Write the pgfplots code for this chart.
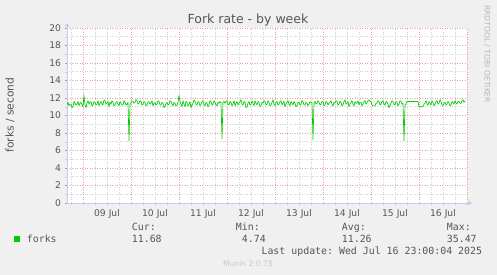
\documentclass[border=0pt]{standalone}
\usepackage{fontspec}
\setmainfont{DejaVu Sans}
\setmonofont{DejaVu Sans Mono}
\usepackage{pgfplots}
\pgfplotsset{compat=1.18}
\usetikzlibrary{arrows.meta}
\definecolor{bg}{HTML}{F0F0F0}
\definecolor{txt}{HTML}{555555}
\definecolor{majgrid}{HTML}{E6A0A0}
\definecolor{mingrid}{HTML}{CFCFCF}
\definecolor{axblue}{HTML}{C8C8F5}
\definecolor{forkgreen}{HTML}{00CC00}
\begin{document}
\begin{tikzpicture}[x=1pt,y=1pt]
\fill[bg] (0,0) rectangle (497,275);
\useasboundingbox (0,0) rectangle (497,275);
\begin{axis}[
  at={(67pt,72pt)}, anchor=south west,
  scale only axis, width=400pt, height=175pt,
  xmin=0, xmax=400, ymin=0, ymax=20,
  axis background/.style={fill=white},
  axis lines=left,
  axis line style={draw=axblue, line width=0.8pt, -{Stealth[length=4pt,width=5pt]}, shorten >=-5pt},
  tick align=outside,
  major tick length=2.5pt, minor tick length=2pt,
  ytick={0,2,...,20},
  minor ytick={1,3,...,19},
  xtick={40,88,...,376},
  xticklabels={09 Jul,10 Jul,11 Jul,12 Jul,13 Jul,14 Jul,15 Jul,16 Jul},
  major x tick style={draw=none},
  minor xtick={4,16,...,400},
  extra x ticks={16,64,...,400},
  extra x tick labels={},
  extra x tick style={xmajorgrids=true, major grid style={draw=majgrid, line width=0.6pt, dash pattern=on 1pt off 1.5pt}, major tick style={draw=majgrid}},
  xmajorgrids=false, xminorgrids=true,
  ymajorgrids=true, yminorgrids=true,
  major grid style={draw=majgrid, line width=0.6pt, dash pattern=on 1pt off 1.5pt},
  minor grid style={draw=mingrid, line width=0.6pt, dash pattern=on 1pt off 1.5pt},
  minor tick style={draw=mingrid},
  major y tick style={draw=gray!70},
  tick label style={font=\fontsize{9.2}{11}\selectfont, text=txt},
  /pgf/number format/assume math mode=true,
  clip=true,
]
\addplot[color=forkgreen, line width=0.65pt, line join=round] coordinates {
(0,11.2) (1,11.5) (2,11.1) (3,11.3) (4,11.3) (5,10.9) (6,11.0) (7,11.6) (8,11.4) (9,11.2)
(10,11.3) (11,11.6) (12,11.1) (13,11.4) (14,11.5) (15,11.2) (16,11.0) (17,12.3) (18,11.2) (19,10.9)
(20,11.4) (21,11.7) (22,11.3) (23,11.5) (24,11.6) (25,11.1) (26,11.2) (27,11.6) (28,11.5) (29,11.2)
(30,11.3) (31,11.7) (32,11.1) (33,11.4) (34,11.6) (35,11.3) (36,11.2) (37,11.8) (38,11.7) (39,11.3)
(40,11.4) (41,11.6) (42,11.0) (43,11.5) (44,11.3) (45,11.7) (46,11.5) (47,11.1) (48,11.2) (49,11.5)
(50,11.6) (51,11.3) (52,11.1) (53,11.6) (54,11.4) (55,11.2) (56,11.2) (57,11.7) (58,11.5) (59,11.2)
(60,11.3) (61,11.5) (62,7.1) (63,11.3) (64,11.4) (65,11.7) (66,11.6) (67,11.4) (68,11.5) (69,11.8)
(70,11.7) (71,11.3) (72,11.4) (73,11.7) (74,11.6) (75,11.2) (76,11.3) (77,11.6) (78,11.5) (79,11.1)
(80,11.2) (81,11.5) (82,11.6) (83,11.3) (84,11.4) (85,11.7) (86,11.1) (87,11.4) (88,11.5) (89,11.2)
(90,11.3) (91,11.7) (92,11.6) (93,11.2) (94,11.2) (95,11.5) (96,11.4) (97,10.9) (98,11.0) (99,11.4)
(100,11.5) (101,11.2) (102,11.3) (103,11.7) (104,11.6) (105,11.3) (106,11.1) (107,11.5) (108,11.4) (109,11.1)
(110,11.2) (111,11.5) (112,12.3) (113,11.6) (114,11.3) (115,11.0) (116,11.7) (117,11.3) (118,11.0) (119,11.6)
(120,11.5) (121,11.1) (122,11.2) (123,11.6) (124,10.9) (125,11.2) (126,11.4) (127,11.8) (128,11.6) (129,11.3)
(130,11.2) (131,11.6) (132,11.5) (133,11.1) (134,11.3) (135,11.6) (136,11.7) (137,11.2) (138,11.1) (139,11.5)
(140,11.4) (141,11.0) (142,11.2) (143,11.7) (144,11.6) (145,11.2) (146,11.3) (147,11.7) (148,11.5) (149,11.2)
(150,11.1) (151,11.5) (152,11.4) (153,11.6) (154,11.5) (155,7.35) (156,11.5) (157,11.6) (158,11.4) (159,11.6)
(160,11.7) (161,11.3) (162,11.2) (163,11.6) (164,11.5) (165,11.1) (166,11.3) (167,11.7) (168,11.1) (169,11.4)
(170,11.6) (171,11.2) (172,11.4) (173,11.6) (174,11.8) (175,11.3) (176,11.2) (177,11.6) (178,11.5) (179,10.9)
(180,11.0) (181,11.4) (182,11.6) (183,11.2) (184,11.3) (185,11.7) (186,11.4) (187,11.1) (188,11.7) (189,11.4)
(190,11.2) (191,11.6) (192,11.5) (193,11.0) (194,11.1) (195,11.5) (196,11.4) (197,11.7) (198,11.6) (199,11.2)
(200,11.3) (201,11.7) (202,11.5) (203,11.1) (204,11.2) (205,11.5) (206,11.8) (207,11.3) (208,11.1) (209,11.5)
(210,11.6) (211,11.2) (212,11.3) (213,11.6) (214,11.7) (215,11.2) (216,11.4) (217,11.6) (218,11.0) (219,11.3)
(220,11.5) (221,11.7) (222,11.3) (223,11.1) (224,11.6) (225,11.4) (226,11.2) (227,11.6) (228,11.4) (229,11.0)
(230,11.1) (231,11.5) (232,11.5) (233,11.2) (234,11.3) (235,11.7) (236,11.6) (237,11.2) (238,11.2) (239,11.5)
(240,11.4) (241,11.1) (242,11.3) (243,11.6) (244,11.5) (245,11.5) (246,7.25) (247,11.4) (248,11.6) (249,11.3)
(250,11.4) (251,11.7) (252,11.5) (253,11.2) (254,11.3) (255,11.6) (256,11.6) (257,11.1) (258,11.2) (259,11.6)
(260,11.5) (261,11.2) (262,11.4) (263,11.5) (264,11.7) (265,11.3) (266,11.1) (267,11.5) (268,11.4) (269,11.7)
(270,11.6) (271,11.2) (272,11.3) (273,11.6) (274,11.5) (275,11.1) (276,11.2) (277,11.6) (278,11.8) (279,11.3)
(280,11.4) (281,11.6) (282,11.0) (283,11.3) (284,11.5) (285,11.7) (286,11.3) (287,11.1) (288,11.6) (289,11.4)
(290,11.4) (291,11.7) (292,11.2) (293,11.5) (294,11.5) (295,11.1) (296,11.3) (297,11.6) (298,11.7) (299,11.3)
(300,11.5) (301,11.7) (302,11.8) (303,11.6) (304,11.6) (305,11.2) (306,11.1) (308,11.1) (309,11.4)
(310,11.4) (311,11.7) (312,11.6) (313,11.2) (314,11.3) (315,11.6) (316,11.7) (317,11.3) (318,11.2) (319,11.6)
(320,11.5) (321,11.3) (322,10.9) (323,11.2) (324,11.4) (325,11.7) (326,11.6) (327,11.3) (328,11.2) (329,11.6)
(330,11.5) (331,11.1) (332,11.3) (333,11.7) (334,11.6) (335,11.3) (336,11.4) (337,7.1) (338,11.2) (339,11.3)
(340,11.6) (341,11.6) (351,11.6) (352,11.0) (356,11.0) (357,11.3) (358,11.4) (359,11.7)
(360,11.3) (361,11.2) (362,11.6) (363,11.4) (364,11.2) (365,11.7) (366,11.5) (367,11.1) (368,11.3) (369,11.6)
(370,11.7) (371,11.3) (372,11.4) (373,11.8) (374,11.6) (375,11.2) (376,11.1) (377,11.4) (378,11.5) (379,11.2)
(380,11.3) (381,11.6) (382,11.4) (383,11.1) (384,11.2) (385,11.6) (386,11.5) (387,11.3) (388,11.7) (389,11.4)
(390,11.3) (391,11.6) (392,11.6) (393,11.4) (394,11.4) (395,11.7) (396,11.8) (397,11.5) (398,11.68)
};
\end{axis}
\node[anchor=base, font=\fontsize{12.5}{14}\selectfont, text=txt] at (248,251) {Fork rate - by week};
\node[rotate=90, font=\fontsize{10.7}{12}\selectfont, text=txt] at (10,160) {forks / second};
\node[rotate=-90, anchor=west, inner sep=0pt, font=\fontsize{7.6}{8}\selectfont, text=black!28] at (487,270) {RRDTOOL / TOBI OETIKER};
\fill[forkgreen] (14,33) rectangle (20,39);
\begin{scope}[every node/.style={font=\ttfamily\fontsize{9.9}{11}\selectfont, text=txt, inner sep=0pt}]
\node[anchor=base west] at (26.7,32.7) {forks};
\node[anchor=base west] at (131.7,44) {Cur:};
\node[anchor=base west] at (131.7,32.7) {11.68};
\node[anchor=base west] at (235.7,44) {Min:};
\node[anchor=base east] at (266,32.7) {4.74};
\node[anchor=base west] at (341.7,44) {Avg:};
\node[anchor=base west] at (341.7,32.7) {11.26};
\node[anchor=base west] at (446.7,44) {Max:};
\node[anchor=base west] at (446.7,32.7) {35.47};
\node[anchor=base east] at (482.3,20.5) {Last update: Wed Jul 16 23:00:04 2025};
\end{scope}
\node[anchor=base, inner sep=0pt, font=\fontsize{7.6}{9}\selectfont, text=black!22] at (248,8.3) {Munin 2.0.75};
\end{tikzpicture}
\end{document}
